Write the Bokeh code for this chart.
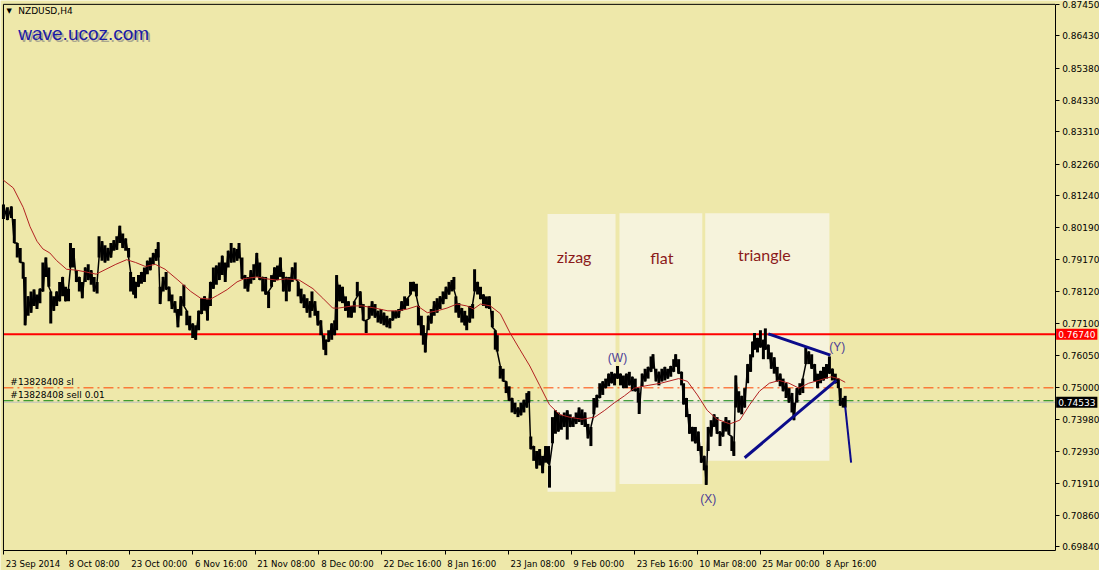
from bokeh.plotting import figure
from bokeh.models import Range1d, LinearAxis, FixedTicker, Label, PrintfTickFormatter
from bokeh.core.properties import value
from bokeh.embed import file_html
from bokeh.resources import INLINE

# ---------------- data ----------------
# H4 bars (bar index, high, low)
bar_x = [3, 7, 11, 14, 17, 20, 23, 25, 28, 31, 34, 37, 40, 43, 46, 49, 51, 54, 57, 60, 63, 66, 69, 71, 74, 77, 80, 83, 86, 89,
         92, 95, 98, 100, 103, 106, 109, 112, 115, 118, 121, 124, 127, 130, 132, 135, 137, 140, 143, 146, 149, 152, 155, 158,
         160, 162, 165, 168, 171, 174, 177, 180, 183, 186, 189, 192, 195, 198, 201, 204, 207, 210, 213, 216, 219,
         222, 225, 228, 231, 234, 237, 240, 242, 245, 248, 251, 254, 257, 260, 263, 266, 269, 272, 275, 278, 281, 284, 287,
         290, 293, 296, 299, 302, 305, 308, 311, 314, 316, 319, 322, 325, 328, 330, 333, 336, 339, 341, 344, 347, 350, 353,
         356, 359, 362, 365, 368, 371, 374, 377, 380, 383, 386, 389, 392, 395, 398, 401, 404, 407, 410, 413, 416, 419, 422,
         424, 427, 429,
         431, 434, 437, 440, 443, 446, 449, 452, 455, 458, 460, 462, 465, 468, 471, 473, 476, 479, 481, 484, 487, 490, 493,
         496, 499, 502, 504, 507, 510, 513, 516, 519, 522, 525, 528, 531, 534, 536, 538, 541, 544, 547, 550, 553, 556, 557,
         560, 563, 566, 569, 572, 575, 578, 581, 584, 587, 590, 593, 596, 599, 602, 605, 608, 611, 614, 617, 620, 623, 626,
         629, 632,
         635, 638, 641, 644, 647, 648, 651, 654, 657, 660, 662, 665, 668, 671, 674, 677, 680, 683, 685, 688, 691, 693, 696,
         699, 702, 705, 708, 711, 714, 716, 718, 721, 724, 727, 730, 733, 736, 739, 742, 744, 746, 749, 752, 755, 758, 761,
         763, 765, 768, 771, 774, 776, 779, 782, 785, 788, 791, 794, 797, 800, 803, 805, 808, 811, 814, 817, 820, 823, 826,
         829, 832, 835, 838, 841, 844, 847, 850, 852, 855, 857]
bar_high = [0.8095, 0.8086, 0.8089, 0.8048, 0.7970, 0.7954, 0.7907, 0.7860, 0.7797, 0.7813, 0.7819, 0.7803, 0.7822, 0.7907,
            0.7923, 0.7891, 0.7813, 0.7797, 0.7813, 0.7844, 0.7860, 0.7828, 0.7822, 0.7970, 0.7954, 0.7882, 0.7860, 0.7844,
            0.7891, 0.7901, 0.7882, 0.7860, 0.7844, 0.7992, 0.7976, 0.7963, 0.7954, 0.7970, 0.7979, 0.7992, 0.8026, 0.8001,
            0.7985, 0.7954, 0.7876, 0.7860, 0.7844, 0.7866, 0.7876, 0.7891, 0.7913, 0.7923, 0.7938, 0.7951, 0.7973, 0.7828,
            0.7860, 0.7876, 0.7828, 0.7803, 0.7781, 0.7756, 0.7797, 0.7835, 0.7750, 0.7734, 0.7709, 0.7703, 0.7750, 0.7791,
            0.7797, 0.7788, 0.7844, 0.7891, 0.7897,
            0.7907, 0.7929, 0.7907, 0.7945, 0.7970, 0.7954, 0.7951, 0.7970, 0.7923, 0.7866, 0.7860, 0.7882, 0.7901, 0.7938,
            0.7907, 0.7860, 0.7860, 0.7813, 0.7866, 0.7891, 0.7897, 0.7923, 0.7876, 0.7860, 0.7860, 0.7891, 0.7907, 0.7844,
            0.7822, 0.7803, 0.7791, 0.7781, 0.7813, 0.7781, 0.7750, 0.7719, 0.7671, 0.7656, 0.7687, 0.7709, 0.7719, 0.7866,
            0.7835, 0.7828, 0.7797, 0.7781, 0.7766, 0.7781, 0.7844, 0.7813, 0.7772, 0.7719, 0.7766, 0.7781, 0.7772, 0.7750,
            0.7756, 0.7744, 0.7734, 0.7725, 0.7750, 0.7750, 0.7756, 0.7781, 0.7797, 0.7791, 0.7844, 0.7844, 0.7838, 0.7766,
            0.7734, 0.7703,
            0.7678, 0.7734, 0.7756, 0.7781, 0.7791, 0.7797, 0.7813, 0.7828, 0.7844, 0.7850, 0.7860, 0.7797, 0.7775, 0.7759,
            0.7750, 0.7734, 0.7766, 0.7772, 0.7885, 0.7844, 0.7828, 0.7803, 0.7797, 0.7797, 0.7750, 0.7687, 0.7671, 0.7571,
            0.7562, 0.7521, 0.7505, 0.7467, 0.7452, 0.7436, 0.7452, 0.7461, 0.7483, 0.7489, 0.7342, 0.7311, 0.7295, 0.7301,
            0.7279, 0.7311, 0.7311, 0.7248, 0.7405, 0.7427, 0.7420, 0.7411, 0.7420, 0.7427, 0.7414, 0.7405, 0.7420, 0.7436,
            0.7430, 0.7420, 0.7383, 0.7373, 0.7467, 0.7477, 0.7515, 0.7521, 0.7530, 0.7546, 0.7552, 0.7546, 0.7571, 0.7546,
            0.7540,
            0.7546, 0.7552, 0.7536, 0.7530, 0.7499, 0.7483, 0.7546, 0.7562, 0.7568, 0.7602, 0.7609, 0.7562, 0.7552, 0.7562,
            0.7568, 0.7562, 0.7571, 0.7593, 0.7609, 0.7593, 0.7552, 0.7515, 0.7467, 0.7415, 0.7373, 0.7373, 0.7358, 0.7311,
            0.7279, 0.7248, 0.7373, 0.7395, 0.7414, 0.7405, 0.7358, 0.7389, 0.7405, 0.7395, 0.7342, 0.7326, 0.7540, 0.7489,
            0.7474, 0.7499, 0.7577, 0.7609, 0.7650, 0.7678, 0.7662, 0.7687, 0.7656, 0.7693, 0.7640, 0.7615, 0.7599, 0.7568,
            0.7546, 0.7530, 0.7515, 0.7499, 0.7483, 0.7452, 0.7499, 0.7515, 0.7530, 0.7631, 0.7618, 0.7609, 0.7577, 0.7546,
            0.7555, 0.7568, 0.7577, 0.7602, 0.7562, 0.7546, 0.7530, 0.7499, 0.7467, 0.7474]
bar_low = [0.8048, 0.8045, 0.8051, 0.7970, 0.7923, 0.7907, 0.7854, 0.7703, 0.7734, 0.7744, 0.7766, 0.7756, 0.7775, 0.7813,
           0.7860, 0.7828, 0.7709, 0.7750, 0.7766, 0.7781, 0.7797, 0.7781, 0.7781, 0.7891, 0.7891, 0.7844, 0.7813, 0.7791,
           0.7844, 0.7850, 0.7835, 0.7813, 0.7806, 0.7923, 0.7913, 0.7907, 0.7913, 0.7923, 0.7945, 0.7948, 0.7970, 0.7954,
           0.7945, 0.7923, 0.7813, 0.7803, 0.7791, 0.7828, 0.7838, 0.7844, 0.7869, 0.7882, 0.7901, 0.7913, 0.7923, 0.7772,
           0.7813, 0.7819, 0.7781, 0.7756, 0.7744, 0.7697, 0.7734, 0.7766, 0.7703, 0.7687, 0.7662, 0.7656, 0.7687, 0.7740,
           0.7750, 0.7719, 0.7766, 0.7822, 0.7835,
           0.7850, 0.7866, 0.7844, 0.7891, 0.7907, 0.7907, 0.7913, 0.7920, 0.7854, 0.7822, 0.7813, 0.7838, 0.7850, 0.7860,
           0.7850, 0.7813, 0.7803, 0.7759, 0.7828, 0.7844, 0.7850, 0.7860, 0.7813, 0.7781, 0.7813, 0.7844, 0.7854, 0.7797,
           0.7775, 0.7759, 0.7744, 0.7728, 0.7750, 0.7734, 0.7703, 0.7671, 0.7624, 0.7606, 0.7650, 0.7656, 0.7671, 0.7687,
           0.7781, 0.7775, 0.7750, 0.7728, 0.7728, 0.7744, 0.7797, 0.7759, 0.7719, 0.7678, 0.7725, 0.7734, 0.7728, 0.7712,
           0.7709, 0.7703, 0.7697, 0.7693, 0.7719, 0.7725, 0.7728, 0.7750, 0.7756, 0.7766, 0.7803, 0.7813, 0.7797, 0.7703,
           0.7671, 0.7640,
           0.7615, 0.7687, 0.7709, 0.7734, 0.7744, 0.7756, 0.7772, 0.7788, 0.7803, 0.7813, 0.7819, 0.7744, 0.7728, 0.7712,
           0.7703, 0.7687, 0.7712, 0.7725, 0.7813, 0.7803, 0.7788, 0.7766, 0.7759, 0.7756, 0.7697, 0.7624, 0.7618, 0.7530,
           0.7521, 0.7483, 0.7458, 0.7420, 0.7415, 0.7405, 0.7411, 0.7420, 0.7436, 0.7452, 0.7301, 0.7263, 0.7238, 0.7248,
           0.7223, 0.7257, 0.7254, 0.7176, 0.7320, 0.7351, 0.7358, 0.7364, 0.7373, 0.7332, 0.7373, 0.7373, 0.7383, 0.7389,
           0.7380, 0.7373, 0.7336, 0.7311, 0.7414, 0.7436, 0.7467, 0.7477, 0.7499, 0.7505, 0.7515, 0.7508, 0.7530, 0.7508,
           0.7499,
           0.7499, 0.7508, 0.7489, 0.7489, 0.7452, 0.7415, 0.7505, 0.7521, 0.7530, 0.7552, 0.7562, 0.7521, 0.7508, 0.7521,
           0.7524, 0.7530, 0.7536, 0.7552, 0.7568, 0.7546, 0.7508, 0.7446, 0.7405, 0.7351, 0.7326, 0.7320, 0.7295, 0.7257,
           0.7232, 0.7185, 0.7295, 0.7342, 0.7373, 0.7351, 0.7311, 0.7342, 0.7358, 0.7348, 0.7295, 0.7279, 0.7436, 0.7420,
           0.7414, 0.7436, 0.7515, 0.7552, 0.7599, 0.7624, 0.7615, 0.7631, 0.7593, 0.7624, 0.7593, 0.7562, 0.7546, 0.7521,
           0.7505, 0.7489, 0.7467, 0.7452, 0.7420, 0.7395, 0.7452, 0.7477, 0.7483, 0.7577, 0.7577, 0.7562, 0.7521, 0.7499,
           0.7515, 0.7524, 0.7530, 0.7546, 0.7524, 0.7515, 0.7499, 0.7442, 0.7436, 0.7436]

# moving average
ma_x = [3, 13, 23, 30, 37, 43, 50, 57, 67, 77, 87, 97, 107, 117, 128, 137, 147, 157, 167, 180, 193, 203, 213, 220, 230,
        240, 247, 260, 270, 280, 290, 303, 317, 327, 337, 343, 357, 367, 380, 393, 403, 413, 423, 433, 443, 453, 463, 473,
        480, 487, 497, 507, 517, 527, 537, 547, 557, 567, 577, 590, 603, 613, 623, 633, 643, 657, 670, 688, 697, 707, 717,
        727, 740, 750, 760, 770, 780, 790, 800, 810, 820, 830, 843, 850, 857]
ma_val = [0.8174, 0.8149, 0.8086, 0.8023, 0.7976, 0.7951, 0.7938, 0.7913, 0.7885, 0.7882, 0.7876, 0.7869, 0.7885, 0.7901,
          0.7916, 0.7907, 0.7894, 0.7901, 0.7885, 0.7850, 0.7813, 0.7791, 0.7788, 0.7800, 0.7819, 0.7844, 0.7854, 0.7860,
          0.7854, 0.7850, 0.7854, 0.7850, 0.7822, 0.7791, 0.7759, 0.7759, 0.7766, 0.7766, 0.7759, 0.7750, 0.7750, 0.7756,
          0.7766, 0.7744, 0.7750, 0.7759, 0.7772, 0.7766, 0.7756, 0.7772, 0.7766, 0.7741, 0.7678, 0.7624, 0.7571, 0.7508,
          0.7445, 0.7414, 0.7405, 0.7398, 0.7405, 0.7427, 0.7452, 0.7474, 0.7499, 0.7508, 0.7515, 0.7530, 0.7521, 0.7477,
          0.7427, 0.7398, 0.7383, 0.7395, 0.7445, 0.7489, 0.7515, 0.7524, 0.7515, 0.7499, 0.7515, 0.7524, 0.7536, 0.7530,
          0.7518]

# horizontal levels
level_resist = 0.76740
level_sl = 0.75000
level_entry = 0.74580
level_bid = 0.74533

# hand-drawn trend lines
tri_upper_x = [779, 842]
tri_upper_y = [0.7675, 0.7606]
tri_lower_x = [755, 848]
tri_lower_y = [0.7273, 0.7524]
drop_x = [857, 863]
drop_y = [0.7439, 0.7257]

# pattern boxes
box_names = ["zizag", "flat", "triangle"]
box_left = [555, 628, 715]
box_right = [624, 712, 841]
box_top = [0.8064, 0.8067, 0.8067]
box_bottom = [0.7163, 0.7188, 0.7263]
box_label_x = [582, 671, 775]
box_label_y = [0.7926, 0.7923, 0.7932]

wave_names = ["(W)", "(X)", "(Y)"]
wave_x = [626, 718, 849]
wave_y = [0.7596, 0.7138, 0.7631]

y_ticks = [0.87450, 0.86430, 0.85380, 0.84330, 0.83310, 0.82260, 0.81240, 0.80190, 0.79170, 0.78120,
           0.77100, 0.76050, 0.75000, 0.73980, 0.72930, 0.71910, 0.70860, 0.69840]
x_tick_pos = [3, 67, 131, 195, 259, 323, 387, 451, 515, 579, 643, 707, 771, 835]
x_tick_labels = ["23 Sep 2014", "8 Oct 08:00", "23 Oct 00:00", "6 Nov 16:00", "21 Nov 08:00", "8 Dec 00:00",
                 "22 Dec 16:00", "8 Jan 16:00", "23 Jan 08:00", "9 Feb 00:00", "23 Feb 16:00", "10 Mar 08:00",
                 "25 Mar 00:00", "8 Apr 16:00"]

# ---------------- layout ----------------
BG = "#eee8aa"
AXIS_FONT = "DejaVu Sans"
Y_SIZE = 9.0
X_SIZE = 8.6
W, H = 1099, 570
# the frame covers the whole canvas; the price/time scales sit inside it at fixed locations
X_LO, X_HI = 0, 1115          # horizontal extent in bars
X_FIRST, X_LAST = 3, 1070     # chart window in bars (price scale drawn at X_LAST)
Y_LO, Y_HI = 0.69070, 0.87575  # vertical extent in price
Y_BOTTOM, Y_TOP = 0.69715, 0.87450  # chart window in price (time scale drawn at Y_BOTTOM)
px_per_unit = W / (X_HI - X_LO)

# DejaVu Sans advance widths (per 2048 em) to left-align the date labels on their tick marks
ADV = {" ": 651, ":": 690, "S": 1300, "e": 1260, "p": 1300, "O": 1612, "c": 1126, "t": 803, "N": 1532,
       "o": 1253, "v": 1212, "D": 1577, "J": 604, "a": 1255, "n": 1298, "F": 1178, "b": 1300, "M": 1767,
       "r": 842, "A": 1401}


def text_w(s):
    return sum(ADV.get(ch, 1303) for ch in s) / 2048 * X_SIZE


label_centers = [int(round(pos + (text_w(lab) / 2 + 2) / px_per_unit)) for pos, lab in zip(x_tick_pos, x_tick_labels)]

p = figure(width=W, height=H, output_backend="svg", toolbar_location=None,
           x_range=Range1d(X_LO, X_HI), y_range=Range1d(Y_LO, Y_HI),
           x_axis_location=None, y_axis_location=None,
           min_border_left=0, min_border_top=0, min_border_right=0, min_border_bottom=0)
p.background_fill_color = BG
p.border_fill_color = BG
p.outline_line_color = None
p.grid.visible = False

yax = LinearAxis(ticker=FixedTicker(ticks=y_ticks), formatter=PrintfTickFormatter(format="%.5f"),
                 fixed_location=X_LAST, bounds=(Y_BOTTOM, Y_TOP))
yax.major_label_text_font = AXIS_FONT
yax.major_label_text_font_size = "%gpx" % Y_SIZE
yax.major_label_text_color = "black"
yax.major_tick_in = 0
yax.major_tick_out = 4
yax.minor_tick_out = 0
yax.minor_tick_in = 0
yax.major_label_standoff = 3
yax.axis_line_color = "black"
p.add_layout(yax, "right")

# time scale: tick marks (minor ticks) at the bar positions, labels centred just right of them
xax = LinearAxis(ticker=FixedTicker(ticks=label_centers, minor_ticks=x_tick_pos),
                 fixed_location=Y_BOTTOM, bounds=(X_FIRST, X_LAST))
xax.major_label_overrides = {c: lab for c, lab in zip(label_centers, x_tick_labels)}
xax.major_label_text_font = AXIS_FONT
xax.major_label_text_font_size = "%gpx" % X_SIZE
xax.major_label_text_color = "black"
xax.major_tick_in = 0
xax.major_tick_out = 0
xax.minor_tick_out = 4
xax.minor_tick_in = 0
xax.minor_tick_line_color = "black"
xax.major_label_standoff = 4
xax.axis_line_color = "black"
p.add_layout(xax, "below")

# chart window border (top and left)
p.segment(x0=[X_FIRST, X_FIRST], y0=[Y_TOP, Y_BOTTOM], x1=[X_LAST, X_FIRST], y1=[Y_TOP, Y_TOP],
          line_color="black", line_width=1)

# boxes
p.quad(left=box_left, right=box_right, top=box_top, bottom=box_bottom,
       fill_color="#f6f3dc", line_color=None, level="image")

# horizontal levels (under bars), limited to the chart window
for lvl, col, lw, dash in ((level_resist, "#ff0000", 2, "solid"), (level_sl, "#ff4500", 1, "10 4 2 4"),
                           (level_entry, "#008000", 1, "10 4 2 4"), (level_bid, "#c0c0c0", 1, "solid")):
    p.line([X_FIRST, X_LAST], [lvl, lvl], line_color=col, line_width=lw, line_dash=dash, level="underlay")

# bars
p.segment(x0=bar_x, y0=bar_low, x1=bar_x, y1=bar_high, line_color="black", line_width=3)
zig_y = [h if i % 2 == 0 else l for i, (h, l) in enumerate(zip(bar_high, bar_low))]
p.line(bar_x, zig_y, line_color="black", line_width=1.5)

# moving average
p.line(ma_x, ma_val, line_color="#b22222", line_width=1)

# trend lines
for xs, ys in ((tri_upper_x, tri_upper_y), (tri_lower_x, tri_lower_y)):
    p.line(xs, ys, line_color="#0b0b8a", line_width=3)
p.line(drop_x, drop_y, line_color="#0b0b8a", line_width=2)

# box captions
p.text(x=box_label_x, y=box_label_y, text=box_names, text_align="center", text_baseline="middle",
       text_color="#8b1a1a", text_font=value("Lato"), text_font_size="16px")

# wave labels
p.text(x=wave_x, y=wave_y, text=wave_names, text_align="center", text_baseline="middle",
       text_color="#4b3c96", text_font=value("Liberation Sans"), text_font_size="12px")

# order labels
p.add_layout(Label(x=10, y=level_sl, y_offset=1, text="#13828408 sl", text_baseline="bottom",
                   text_font=AXIS_FONT, text_font_size="9px", text_color="black"))
p.add_layout(Label(x=10, y=level_entry, y_offset=1, text="#13828408 sell 0.01", text_baseline="bottom",
                   text_font=AXIS_FONT, text_font_size="9px", text_color="black"))

# title and watermark
p.add_layout(Label(x=6, y=0.8723, text="\u25bc", text_baseline="middle", text_font=AXIS_FONT,
                   text_font_size="7px", text_color="black"))
p.add_layout(Label(x=18, y=0.8723, text="NZDUSD,H4", text_baseline="middle", text_font=AXIS_FONT,
                   text_font_size="9px", text_color="black"))
p.add_layout(Label(x=18, y=0.8651, x_offset=2, y_offset=-2, text="wave.ucoz.com", text_baseline="middle",
                   text_font="Liberation Sans", text_font_size="19px", text_color="#a9a690"))
p.add_layout(Label(x=18, y=0.8651, text="wave.ucoz.com", text_baseline="middle",
                   text_font="Liberation Sans", text_font_size="19px", text_color="#1a1aa6"))

# price tags on the price scale
for lvl, col in ((level_resist, "#ff0000"), (level_bid, "black")):
    p.add_layout(Label(x=X_LAST, y=lvl, x_offset=1, text="%.5f" % lvl, text_align="left",
                       text_baseline="middle", text_font=AXIS_FONT, text_font_size="%gpx" % Y_SIZE,
                       text_color="white", background_fill_color=col, padding=2))

open("out.html", "w").write(file_html(p, INLINE))
